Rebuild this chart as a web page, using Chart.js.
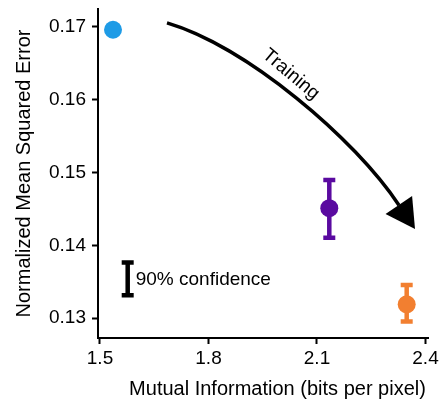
<!DOCTYPE html>
<html>
<head>
<meta charset="utf-8">
<script src="https://cdn.jsdelivr.net/npm/chart.js@4.4.1/dist/chart.umd.min.js"></script>
<style>
    html, body { margin: 0; padding: 0; background: #fff; }
    #wrap { width: 446px; height: 400px; }
</style>
</head>
<body>
<div id="wrap"><canvas id="mseChart" width="446" height="400"></canvas></div>
<script>
const xTicks = [1.5, 1.8, 2.1, 2.4];
const yTicks = [0.13, 0.14, 0.15, 0.16, 0.17];

// one point per model: mutual information vs. normalized MSE, with 90% interval
const miBits = [1.536, 2.134, 2.348];
const mseMean = [0.1696, 0.1451, 0.1319];
const mseLow = [0.1694, 0.1408, 0.1293];
const mseHigh = [0.1698, 0.1492, 0.1348];
const pointColors = ['#1e9be6', '#5a0aa0', '#f27f30'];

// key bar for the confidence interval
const keyX = [1.5766];
const keyLow = [0.1329];
const keyHigh = [0.1379];

// training arrow in data units: start, control 1, control 2, end of shaft, tip
const arrowX = [1.6853, 1.9064, 2.2051, 2.3267, 2.3710];
const arrowY = [0.17054, 0.16728, 0.15463, 0.14551, 0.14224];

window.addEventListener('load', function () {
    Plot.init();
});

const Plot = {
    chart: null,
    font: "'Liberation Sans', Arial, Helvetica, sans-serif",
    init: function () {
        Chart.defaults.font.family = this.font;
        Chart.defaults.color = '#000';
        this.drawChart();
    },
    drawBar: function (ctx, x, yTop, yBottom, color, lineWidth, capHalf) {
        ctx.save();
        ctx.strokeStyle = color;
        ctx.lineWidth = lineWidth;
        ctx.lineCap = 'butt';
        ctx.beginPath();
        ctx.moveTo(x, yTop);
        ctx.lineTo(x, yBottom);
        ctx.moveTo(x - capHalf, yTop + lineWidth / 2 - 0.5);
        ctx.lineTo(x + capHalf, yTop + lineWidth / 2 - 0.5);
        ctx.moveTo(x - capHalf, yBottom - lineWidth / 2 + 0.5);
        ctx.lineTo(x + capHalf, yBottom - lineWidth / 2 + 0.5);
        ctx.stroke();
        ctx.restore();
    },
    // keep the plot box fixed instead of letting tick labels pad it
    noPadding: function (scale) {
        scale.paddingTop = 0;
        scale.paddingBottom = 0;
        scale.paddingLeft = 0;
        scale.paddingRight = 0;
    },
    errorBars: {
        id: 'errorBars',
        beforeDatasetsDraw: function (chart) {
            const ctx = chart.ctx;
            const xs = chart.scales.x;
            const ys = chart.scales.y;
            for (let i = 0; i < miBits.length; i++) {
                const px = xs.getPixelForValue(miBits[i]);
                Plot.drawBar(ctx, px, ys.getPixelForValue(mseHigh[i]), ys.getPixelForValue(mseLow[i]), pointColors[i], 4.5, 6);
            }
        }
    },
    annotations: {
        id: 'annotations',
        afterDatasetsDraw: function (chart) {
            const ctx = chart.ctx;
            const xs = chart.scales.x;
            const ys = chart.scales.y;

            // confidence key
            const kx = xs.getPixelForValue(keyX[0]);
            const kTop = ys.getPixelForValue(keyHigh[0]);
            const kBottom = ys.getPixelForValue(keyLow[0]);
            Plot.drawBar(ctx, kx, kTop, kBottom, '#000', 4.5, 6);
            ctx.save();
            ctx.fillStyle = '#000';
            ctx.font = '19px ' + Plot.font;
            ctx.textAlign = 'left';
            ctx.textBaseline = 'middle';
            ctx.fillText('90% confidence', kx + 8, (kTop + kBottom) / 2 + 1);
            ctx.restore();

            // curved training arrow
            const p = arrowX.map((v, i) => [xs.getPixelForValue(v), ys.getPixelForValue(arrowY[i])]);
            ctx.save();
            ctx.strokeStyle = '#000';
            ctx.lineWidth = 3.5;
            ctx.beginPath();
            ctx.moveTo(p[0][0], p[0][1]);
            ctx.bezierCurveTo(p[1][0], p[1][1], p[2][0], p[2][1], p[3][0], p[3][1]);
            ctx.stroke();
            const tip = p[4];
            const dx = tip[0] - p[3][0];
            const dy = tip[1] - p[3][1];
            const len = Math.sqrt(dx * dx + dy * dy);
            const ux = dx / len, uy = dy / len;
            const bx = tip[0] - ux * 29, by = tip[1] - uy * 29;
            ctx.fillStyle = '#000';
            ctx.beginPath();
            ctx.moveTo(tip[0], tip[1]);
            ctx.lineTo(bx - uy * 16, by + ux * 16);
            ctx.lineTo(bx + uy * 16, by - ux * 16);
            ctx.closePath();
            ctx.fill();

            // label along the arrow
            ctx.translate(xs.getPixelForValue(2.0281), ys.getPixelForValue(0.16347));
            ctx.rotate(40 * Math.PI / 180);
            ctx.font = '19px ' + Plot.font;
            ctx.textAlign = 'center';
            ctx.textBaseline = 'middle';
            ctx.fillText('Training', 0, 0);
            ctx.restore();

            // x axis title
            ctx.save();
            ctx.fillStyle = '#000';
            ctx.font = '20px ' + Plot.font;
            ctx.textAlign = 'center';
            ctx.textBaseline = 'alphabetic';
            ctx.fillText('Mutual Information (bits per pixel)', 277.5, 395);
            ctx.restore();
        }
    },
    drawChart: function () {
        const ctx = document.getElementById('mseChart');
        const points = [];
        for (let i = 0; i < miBits.length; i++) {
            points.push({ x: miBits[i], y: mseMean[i] });
        }
        Plot.chart = new Chart(ctx, {
            type: 'scatter',
            data: {
                datasets: [
                    {
                        data: points,
                        pointRadius: 9,
                        pointBackgroundColor: pointColors,
                        pointBorderWidth: 0,
                        pointHoverRadius: 9
                    }
                ]
            },
            options: {
                responsive: false,
                animation: false,
                events: [],
                layout: {
                    padding: { top: 6, right: 18, bottom: 0, left: 0 }
                },
                plugins: {
                    legend: { display: false },
                    tooltip: { enabled: false }
                },
                scales: {
                    x: {
                        type: 'linear',
                        min: 1.4945,
                        max: 2.4069,
                        afterBuildTicks: function (scale) {
                            scale.ticks = xTicks.map(v => ({ value: v }));
                        },
                        afterFit: function (scale) {
                            scale.height = 62;
                            Plot.noPadding(scale);
                        },
                        ticks: {
                            callback: v => v.toFixed(1),
                            font: { size: 19 },
                            color: '#000',
                            padding: 3,
                            maxRotation: 0,
                            autoSkip: false
                        },
                        grid: {
                            drawOnChartArea: false,
                            drawTicks: true,
                            tickLength: 6,
                            tickWidth: 2,
                            tickColor: '#000'
                        },
                        border: { display: true, color: '#000', width: 2 }
                    },
                    y: {
                        type: 'linear',
                        min: 0.12728,
                        max: 0.17245,
                        afterBuildTicks: function (scale) {
                            scale.ticks = yTicks.map(v => ({ value: v }));
                        },
                        afterFit: function (scale) {
                            scale.width = 98;
                            Plot.noPadding(scale);
                        },
                        ticks: {
                            callback: v => v.toFixed(2),
                            font: { size: 19 },
                            color: '#000',
                            padding: 6,
                            autoSkip: false
                        },
                        grid: {
                            drawOnChartArea: false,
                            drawTicks: true,
                            tickLength: 6,
                            tickWidth: 2,
                            tickColor: '#000'
                        },
                        border: { display: true, color: '#000', width: 2 },
                        title: {
                            display: true,
                            text: 'Normalized Mean Squared Error',
                            font: { size: 20 },
                            color: '#000',
                            padding: { top: 12, bottom: 0 }
                        }
                    }
                }
            },
            plugins: [Plot.errorBars, Plot.annotations]
        });
    }
};
</script>
</body>
</html>
